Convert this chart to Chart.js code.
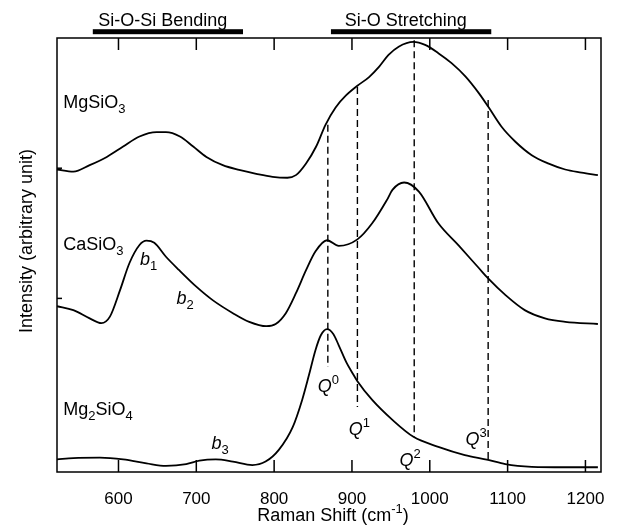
<!DOCTYPE html>
<html>
<head>
<meta charset="utf-8">
<script src="https://cdn.jsdelivr.net/npm/chart.js@4/dist/chart.umd.min.js"></script>
<style>
body { margin: 0; background: #fff; }
#wrap { width: 617px; height: 525px; }
</style>
</head>
<body>
<div id="wrap"><canvas id="raman"></canvas></div>
<script>
// spectra (shift in cm-1, intensity in arbitrary units, offset per sample)
var mgsio3Shift = [521, 542, 563, 585, 606, 627, 649, 661, 679, 696, 713, 734, 755, 777, 798, 817, 828, 841, 854, 866, 879, 892, 907, 922, 935, 947, 960, 979, 994, 1011, 1028, 1046, 1063, 1075, 1092, 1110, 1131, 1152, 1174, 1195, 1216];
var mgsio3Int = [69.7, 69.2, 70.7, 72.6, 75.0, 77.3, 78.3, 78.3, 77.3, 75.0, 72.6, 70.7, 69.6, 68.7, 68.0, 67.8, 68.4, 71.1, 75.0, 80.0, 84.0, 86.7, 89.0, 91.0, 93.4, 96.1, 98.0, 99.1, 98.4, 96.5, 94.2, 91.1, 87.3, 84.2, 79.6, 76.1, 73.0, 71.1, 69.7, 69.0, 68.4];

var casio3Shift = [521, 542, 563, 578, 589, 602, 614, 627, 636, 646, 661, 678, 700, 721, 747, 768, 790, 802, 815, 828, 841, 853, 868, 883, 907, 926, 945, 952, 967, 986, 1011, 1037, 1063, 1075, 1097, 1122, 1148, 1174, 1216];
var casio3Int = [38.2, 37.3, 35.4, 34.3, 35.8, 41.9, 48.1, 52.3, 53.3, 52.8, 49.6, 46.5, 42.7, 39.6, 36.6, 34.6, 33.6, 34.1, 36.6, 41.2, 46.5, 50.8, 53.4, 52.1, 53.6, 57.3, 62.7, 65.0, 66.7, 64.6, 57.3, 52.2, 47.0, 44.6, 40.8, 37.3, 35.4, 34.6, 34.1];

var mg2sio4Shift = [521, 542, 576, 606, 636, 661, 687, 704, 725, 747, 772, 789, 806, 824, 836, 845, 853, 860, 868, 876, 883, 893, 900, 907, 926, 952, 979, 1011, 1045, 1075, 1097, 1131, 1174, 1216];
var mg2sio4Int = [2.9, 3.2, 3.3, 2.9, 2.0, 1.4, 1.8, 2.6, 2.9, 2.4, 1.6, 2.4, 5.1, 10.4, 16.6, 22.5, 28.0, 31.5, 32.9, 31.8, 29.2, 25.2, 23.0, 20.9, 16.6, 12.0, 8.1, 5.8, 3.9, 2.8, 1.8, 1.2, 1.1, 1.1];

var xTicks = [600, 700, 800, 900, 1000, 1100, 1200];

// Qn reference lines
var qNames = ['0', '1', '2', '3'];
var qShift = [869, 907, 980, 1075];
var qTop = [80.0, 88.7, 99.5, 85.7];
var qBottom = [24.2, 15.0, 8.1, 2.8];
var qLabelX = [865, 905, 970, 1055];
var qLabelY = [20.0, 10.1, 2.8, 7.8];

// bending bands
var bNames = ['1', '2', '3'];
var bLabelX = [634, 681, 726];
var bLabelY = [49.3, 40.1, 6.9];

// sample names
var sampleParts = [
    [['MgSiO', 'n'], ['3', 'sub']],
    [['CaSiO', 'n'], ['3', 'sub']],
    [['Mg', 'n'], ['2', 'sub'], ['SiO', 'n'], ['4', 'sub']]
];
var sampleLabelX = 529;
var sampleLabelY = [85.3, 52.7, 14.7];

// regions above the plot
var regionNames = ['Si-O-Si Bending', 'Si-O Stretching'];
var regionFrom = [567, 873];
var regionTo = [760, 1079];
var regionLabelX = [657, 969];
var regionBarY = 101.45;

var yMarks = [40, 70];

var FONT = '"Liberation Sans", Arial, sans-serif';

function partFont(kind) {
    if (kind === 'i') return 'italic 18px ' + FONT;
    if (kind === 'sub' || kind === 'sup') return '13px ' + FONT;
    return '18px ' + FONT;
}

// draws text made of pieces, y is the middle of the capitals
function drawRich(ctx, x, y, parts, align) {
    var total = 0;
    var widths = [];
    for (var i = 0; i < parts.length; i++) {
        ctx.font = partFont(parts[i][1]);
        widths.push(ctx.measureText(parts[i][0]).width);
        total += widths[i];
    }
    var cx = x;
    if (align === 'center') cx = x - total / 2;
    if (align === 'first') cx = x - widths[0] / 2;
    ctx.textAlign = 'left';
    ctx.textBaseline = 'alphabetic';
    for (var j = 0; j < parts.length; j++) {
        ctx.font = partFont(parts[j][1]);
        var dy = 0;
        if (parts[j][1] === 'sub') dy = 5;
        if (parts[j][1] === 'sup') dy = -8;
        ctx.fillText(parts[j][0], cx, y + 6.5 + dy);
        cx += widths[j];
    }
}

function pairs(xs, ys) {
    var out = [];
    for (var i = 0; i < xs.length; i++) out.push({x: xs[i], y: ys[i]});
    return out;
}

var datasets = [
    {data: pairs(mgsio3Shift, mgsio3Int)},
    {data: pairs(casio3Shift, casio3Int)},
    {data: pairs(mg2sio4Shift, mg2sio4Int)}
].map(function(d) {
    d.borderColor = '#000';
    d.borderWidth = 1.8;
    d.pointRadius = 0;
    d.cubicInterpolationMode = 'monotone';
    return d;
});

for (var i = 0; i < qShift.length; i++) {
    datasets.push({
        data: [{x: qShift[i], y: qTop[i]}, {x: qShift[i], y: qBottom[i]}],
        borderColor: '#000',
        borderWidth: 1.4,
        borderDash: [7, 4],
        pointRadius: 0
    });
}

var decorations = {
    id: 'decorations',
    afterDraw: function(chart) {
        var ctx = chart.ctx;
        var a = chart.chartArea;
        var xs = chart.scales.x;
        var ys = chart.scales.y;
        ctx.save();
        ctx.fillStyle = '#000';
        ctx.strokeStyle = '#000';

        // frame and inward ticks
        ctx.lineWidth = 1.5;
        ctx.strokeRect(a.left, a.top, a.right - a.left, a.bottom - a.top);
        xs.ticks.forEach(function(t) {
            var px = xs.getPixelForValue(t.value);
            ctx.beginPath();
            ctx.moveTo(px, a.bottom);
            ctx.lineTo(px, a.bottom - 12);
            ctx.moveTo(px, a.top);
            ctx.lineTo(px, a.top + 12);
            ctx.stroke();
        });
        yMarks.forEach(function(v) {
            var py = ys.getPixelForValue(v);
            ctx.beginPath();
            ctx.moveTo(a.left, py);
            ctx.lineTo(a.left + 5, py);
            ctx.stroke();
        });

        // region bars and names
        for (var r = 0; r < regionNames.length; r++) {
            var x0 = xs.getPixelForValue(regionFrom[r]);
            var x1 = xs.getPixelForValue(regionTo[r]);
            var by = ys.getPixelForValue(regionBarY);
            ctx.fillRect(x0, by - 2.5, x1 - x0, 5);
            drawRich(ctx, xs.getPixelForValue(regionLabelX[r]), 19.7, [[regionNames[r], 'n']], 'center');
        }

        // sample names
        for (var s = 0; s < sampleParts.length; s++) {
            drawRich(ctx, xs.getPixelForValue(sampleLabelX), ys.getPixelForValue(sampleLabelY[s]), sampleParts[s], 'left');
        }

        // band labels
        for (var b = 0; b < bNames.length; b++) {
            drawRich(ctx, xs.getPixelForValue(bLabelX[b]), ys.getPixelForValue(bLabelY[b]), [['b', 'i'], [bNames[b], 'sub']], 'first');
        }
        for (var q = 0; q < qNames.length; q++) {
            drawRich(ctx, xs.getPixelForValue(qLabelX[q]), ys.getPixelForValue(qLabelY[q]), [['Q', 'i'], [qNames[q], 'sup']], 'first');
        }

        // axis titles
        drawRich(ctx, (a.left + a.right) / 2 + 4, 514.5, [['Raman Shift (cm', 'n'], ['-1', 'sup'], [')', 'n']], 'center');
        ctx.translate(25, 241);
        ctx.rotate(-Math.PI / 2);
        drawRich(ctx, 0, 0, [['Intensity (arbitrary unit)', 'n']], 'center');
        ctx.restore();
    }
};

var ctx = document.getElementById('raman');
var ramanChart = new Chart(ctx, {
    type: 'line',
    data: {datasets: datasets},
    options: {
        responsive: true,
        maintainAspectRatio: false,
        animation: false,
        layout: {padding: {top: 38, right: 16, left: 57, bottom: 0}},
        plugins: {legend: {display: false}, tooltip: {enabled: false}},
        scales: {
            x: {
                type: 'linear',
                min: 521,
                max: 1220,
                grid: {display: false},
                border: {display: false},
                afterBuildTicks: function(scale) {
                    scale.ticks = xTicks.map(function(v) { return {value: v}; });
                },
                ticks: {
                    maxRotation: 0,
                    autoSkip: false,
                    padding: 9,
                    color: '#000',
                    font: {family: FONT, size: 17},
                    callback: function(value) { return String(value); }
                },
                afterFit: function(scale) { scale.height = 53; }
            },
            y: {
                type: 'linear',
                min: 0,
                max: 100,
                display: false
            }
        }
    },
    plugins: [decorations]
});
</script>
</body>
</html>
